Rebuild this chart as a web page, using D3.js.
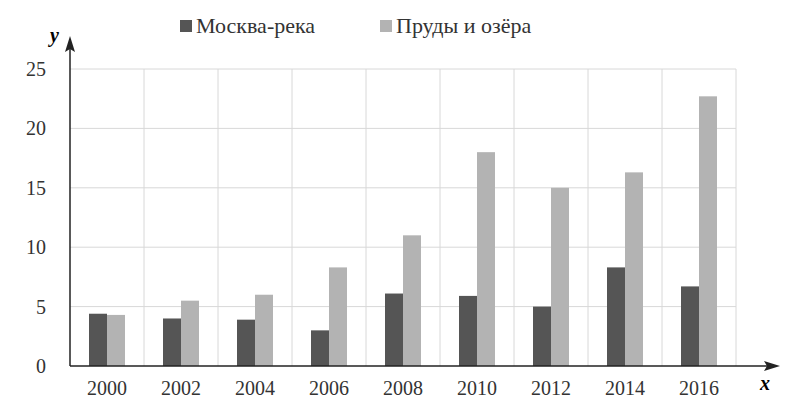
<!DOCTYPE html>
<html><head><meta charset="utf-8">
<script src="https://cdn.jsdelivr.net/npm/d3@7"></script>
<style>body{margin:0;background:#fff}text{font-family:"Liberation Serif","DejaVu Serif",serif}</style>
</head><body><svg id="c" width="811" height="420"></svg>
<script>
const years=["2000","2002","2004","2006","2008","2010","2012","2014","2016"];
const river=[4.4,4.0,3.9,3.0,6.1,5.9,5.0,8.3,6.7];
const ponds=[4.3,5.5,6.0,8.3,11.0,18.0,15.0,16.3,22.7];
const seriesNames=["Москва-река","Пруды и озёра"];
const yTicks=[0,5,10,15,20,25];
const colors=["#555555","#b3b3b3"];
const svg=d3.select("#c");
const L=70,R=736,T=69,B=366;
const x=d3.scaleBand().domain(years).range([L,R]);
const y=d3.scaleLinear().domain([0,25]).range([B,T]);
// grid
svg.selectAll(".hg").data(yTicks.slice(1)).join("line").attr("x1",L).attr("x2",R).attr("y1",d=>y(d)).attr("y2",d=>y(d)).attr("stroke","#d8d8d8");
svg.selectAll(".vg").data(years).join("line").attr("x1",d=>x(d)+x.bandwidth()).attr("x2",d=>x(d)+x.bandwidth()).attr("y1",T).attr("y2",B).attr("stroke","#d8d8d8");
const bw=18;
years.forEach((yr,i)=>{
  const c=x(yr)+x.bandwidth()/2;
  svg.append("rect").attr("x",c-bw).attr("width",bw).attr("y",y(river[i])).attr("height",B-y(river[i])).attr("fill",colors[0]);
  svg.append("rect").attr("x",c).attr("width",bw).attr("y",y(ponds[i])).attr("height",B-y(ponds[i])).attr("fill",colors[1]);
});
// axes
svg.append("line").attr("x1",L).attr("x2",770).attr("y1",B).attr("y2",B).attr("stroke","#222").attr("stroke-width",1.5);
svg.append("path").attr("d",`M780,${B} L764,${B-5} L767,${B} L764,${B+5}Z`).attr("fill","#222");
svg.append("line").attr("x1",L).attr("x2",L).attr("y1",B).attr("y2",45).attr("stroke","#222").attr("stroke-width",1.5);
svg.append("path").attr("d",`M${L},36 L${L-5},52 L${L},49 L${L+5},52Z`).attr("fill","#222");
svg.selectAll(".yt").data(yTicks).join("text").attr("x",46).attr("y",d=>y(d)+7).attr("text-anchor","end").attr("font-size",20).attr("fill","#333").text(d=>d);
svg.selectAll(".xt").data(years).join("text").attr("x",d=>x(d)+x.bandwidth()/2).attr("y",395).attr("text-anchor","middle").attr("font-size",20).attr("fill","#333").text(d=>d);
svg.append("text").attr("x",50).attr("y",42).attr("font-size",20).attr("font-style","italic").attr("font-weight","bold").text("y");
svg.append("text").attr("x",760).attr("y",390).attr("font-size",20).attr("font-style","italic").attr("font-weight","bold").text("x");
// legend
const lg=[[180,seriesNames[0]],[380,seriesNames[1]]];
lg.forEach((d,i)=>{
  svg.append("rect").attr("x",d[0]).attr("y",20).attr("width",12).attr("height",12).attr("fill",colors[i]);
  svg.append("text").attr("x",d[0]+16).attr("y",33).attr("font-size",22).attr("fill","#333").text(d[1]);
});
</script></body></html>
